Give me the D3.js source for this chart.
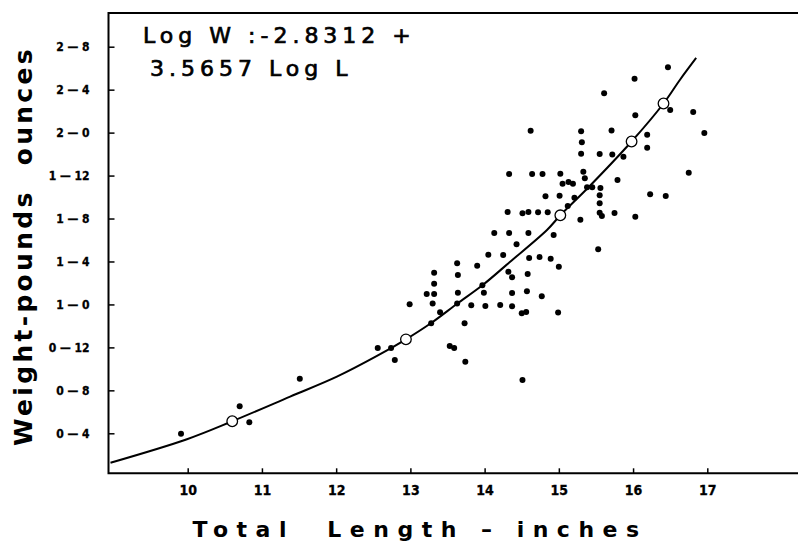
<!DOCTYPE html>
<html><head><meta charset="utf-8">
<script src="https://cdn.jsdelivr.net/npm/d3@7"></script>
<style>
body{margin:0;background:#fff;}
svg{display:block;}
</style></head><body>
<svg id="chart" width="798" height="544"></svg>
<script>
// ---- data ----
const lengthTicks = [10, 11, 12, 13, 14, 15, 16, 17];
const lengthTickLabels = ["10", "11", "12", "13", "14", "15", "16", "17"];
const weightTicks = [4, 8, 12, 16, 20, 24, 28, 32, 36, 40];
const weightTickLabels = ["0 — 4", "0 — 8", "0 — 12", "1 — 0", "1 — 4", "1 — 8", "1 — 12", "2 — 0", "2 — 4", "2 — 8"];

// observed fish: total length (inches), weight (ounces)
const fishLength = [9.91,10.70,10.83,11.51,12.56,12.74,12.79,12.99,13.22,13.32,13.32,13.32,13.30,13.40,13.28,13.53,13.59,
  14.62,15.30,15.71,16.03,16.50,16.81,15.31,16.19,16.19,15.30,15.55,15.72,15.87,14.33,14.64,14.78,15.02,15.33,15.35,16.75,
  15.05,15.13,15.19,15.79,15.38,15.45,15.56,14.82,15.01,15.21,15.55,15.55,16.23,16.44,15.12,14.31,14.51,14.59,14.72,14.85,
  15.55,15.58,15.75,16.03,15.29,14.13,14.33,14.59,14.93,14.43,15.53,14.05,14.25,14.60,14.74,14.89,13.63,13.90,15.00,13.64,
  14.32,14.37,14.58,13.97,13.64,13.99,14.37,14.57,14.77,13.63,13.82,14.01,14.21,14.37,14.50,14.56,14.99,13.73,13.74,14.51,
  16.47,16.02,15.61,16.96];
const fishWeight = [3.96,6.51,5.03,9.08,11.94,11.94,10.83,16.01,16.97,18.95,17.93,16.97,16.09,15.28,14.25,12.13,11.94,
  32.18,32.12,32.20,33.61,34.11,33.92,31.10,31.81,30.59,30.04,30.01,29.96,29.76,28.15,28.15,28.15,28.17,28.36,27.75,28.26,
  27.24,27.40,27.24,27.59,26.91,26.91,26.84,26.07,26.13,25.94,26.16,25.42,26.26,26.10,25.17,24.61,24.49,24.61,24.58,24.58,
  24.54,24.23,24.51,24.17,23.89,22.65,22.65,22.65,22.47,21.60,21.13,20.63,20.60,20.32,20.42,20.26,19.83,19.61,19.51,18.74,
  19.05,18.53,18.83,17.78,17.09,17.09,17.06,17.22,16.76,16.09,15.92,15.85,15.95,15.84,15.18,15.30,15.25,14.24,10.67,8.96,
  38.08,37.02,35.66,31.96];

// fitted curve as drawn
const fitLength = [8.96, 9.99, 10.60, 11.38, 12.01, 12.55, 12.94, 13.28, 13.63, 13.97, 14.34, 14.84, 15.02, 15.40, 15.98, 16.41, 16.63, 16.85];
const fitWeight = [1.26, 3.45, 5.12, 7.41, 9.27, 11.20, 12.75, 14.27, 16.07, 17.78, 19.95, 22.93, 24.30, 26.91, 31.17, 34.71, 36.90, 38.95];

// computed points (open circles)
const calcLength = [10.60, 12.94, 15.02, 15.98, 16.41];
const calcWeight = [5.12, 12.75, 24.30, 31.17, 34.71];

const equationLines = ["Log W :-2.8312 +", "3.5657 Log L"];
const xTitle = "Total  Length – inches";
const yTitle = "Weight-pounds  ounces";

// ---- layout ----
const W = 798, H = 544;
const plotLeft = 108.5, plotRight = 798, plotTop = 13, plotBottom = 473.3;

const x = d3.scaleLinear().domain([10, 17]).range([187.7, 707.3]);
const y = d3.scaleLinear().domain([4, 40]).range([433.3, 46.7]);

const svg = d3.select("#chart");
svg.append("rect").attr("width", W).attr("height", H).attr("fill", "#fff");

const tickFont = '"Liberation Sans Narrow","DejaVu Sans Condensed",sans-serif';

// frame lines
svg.append("path")
  .attr("d", d3.line()([[plotRight, plotTop], [plotLeft, plotTop], [plotLeft, plotBottom], [plotRight, plotBottom]]))
  .attr("fill", "none").attr("stroke", "#000").attr("stroke-width", 2);

// y axis
const yAxis = svg.append("g").attr("transform", `translate(${plotLeft},0)`)
  .call(d3.axisLeft(y).tickValues(weightTicks).tickFormat((d, i) => weightTickLabels[i])
    .tickSize(-6).tickSizeOuter(0).tickPadding(19));
yAxis.select(".domain").remove();
yAxis.selectAll(".tick line").attr("stroke", "#000").attr("stroke-width", 1.5);
yAxis.selectAll(".tick text").attr("font-family", tickFont).attr("font-weight", "bold")
  .attr("font-size", 12).attr("fill", "#000").attr("stroke", "#000").attr("stroke-width", 0.3);

// x axis
const xAxis = svg.append("g").attr("transform", `translate(0,${plotBottom})`)
  .call(d3.axisBottom(x).tickValues(lengthTicks).tickFormat((d, i) => lengthTickLabels[i])
    .tickSize(-5).tickSizeOuter(0).tickPadding(12));
xAxis.select(".domain").remove();
xAxis.selectAll(".tick line").attr("stroke", "#000").attr("stroke-width", 1.5);
xAxis.selectAll(".tick text").attr("font-family", tickFont).attr("font-weight", "bold")
  .attr("font-size", 14).attr("fill", "#000").attr("stroke", "#000").attr("stroke-width", 0.3);

// curve
const fitData = fitLength.map((l, i) => [l, fitWeight[i]]);
svg.append("path").datum(fitData)
  .attr("d", d3.line().x(d => x(d[0])).y(d => y(d[1])).curve(d3.curveCatmullRom))
  .attr("fill", "none").attr("stroke", "#000").attr("stroke-width", 2);

// observed dots
svg.append("g").selectAll("circle").data(fishLength.map((l, i) => [l, fishWeight[i]]))
  .join("circle").attr("cx", d => x(d[0])).attr("cy", d => y(d[1])).attr("r", 3).attr("fill", "#000");

// computed open circles
svg.append("g").selectAll("circle").data(calcLength.map((l, i) => [l, calcWeight[i]]))
  .join("circle").attr("cx", d => x(d[0])).attr("cy", d => y(d[1])).attr("r", 5.3)
  .attr("fill", "#fff").attr("stroke", "#000").attr("stroke-width", 1.3);

// equation
const eq = svg.append("g").attr("font-family", '"DejaVu Sans",sans-serif').attr("font-size", 22)
  .attr("letter-spacing", 5).attr("fill", "#000").attr("stroke", "#000").attr("stroke-width", 0.7);
eq.append("text").attr("x", 143).attr("y", 43).text(equationLines[0]);
eq.append("text").attr("x", 150).attr("y", 76).text(equationLines[1]);

// axis titles
svg.append("text").attr("x", 420).attr("y", 537).attr("text-anchor", "middle")
  .attr("font-family", '"DejaVu Sans",sans-serif').attr("font-weight", "bold").attr("font-size", 22)
  .attr("letter-spacing", 8.5).attr("fill", "#000")
  .style("white-space", "pre").text(xTitle);

svg.append("text").attr("transform", "translate(32,246) rotate(-90)").attr("text-anchor", "middle")
  .attr("font-family", '"DejaVu Sans",sans-serif').attr("font-weight", "bold").attr("font-size", 25)
  .attr("letter-spacing", 3.3).attr("fill", "#000")
  .style("white-space", "pre").text(yTitle);
</script>
</body></html>
